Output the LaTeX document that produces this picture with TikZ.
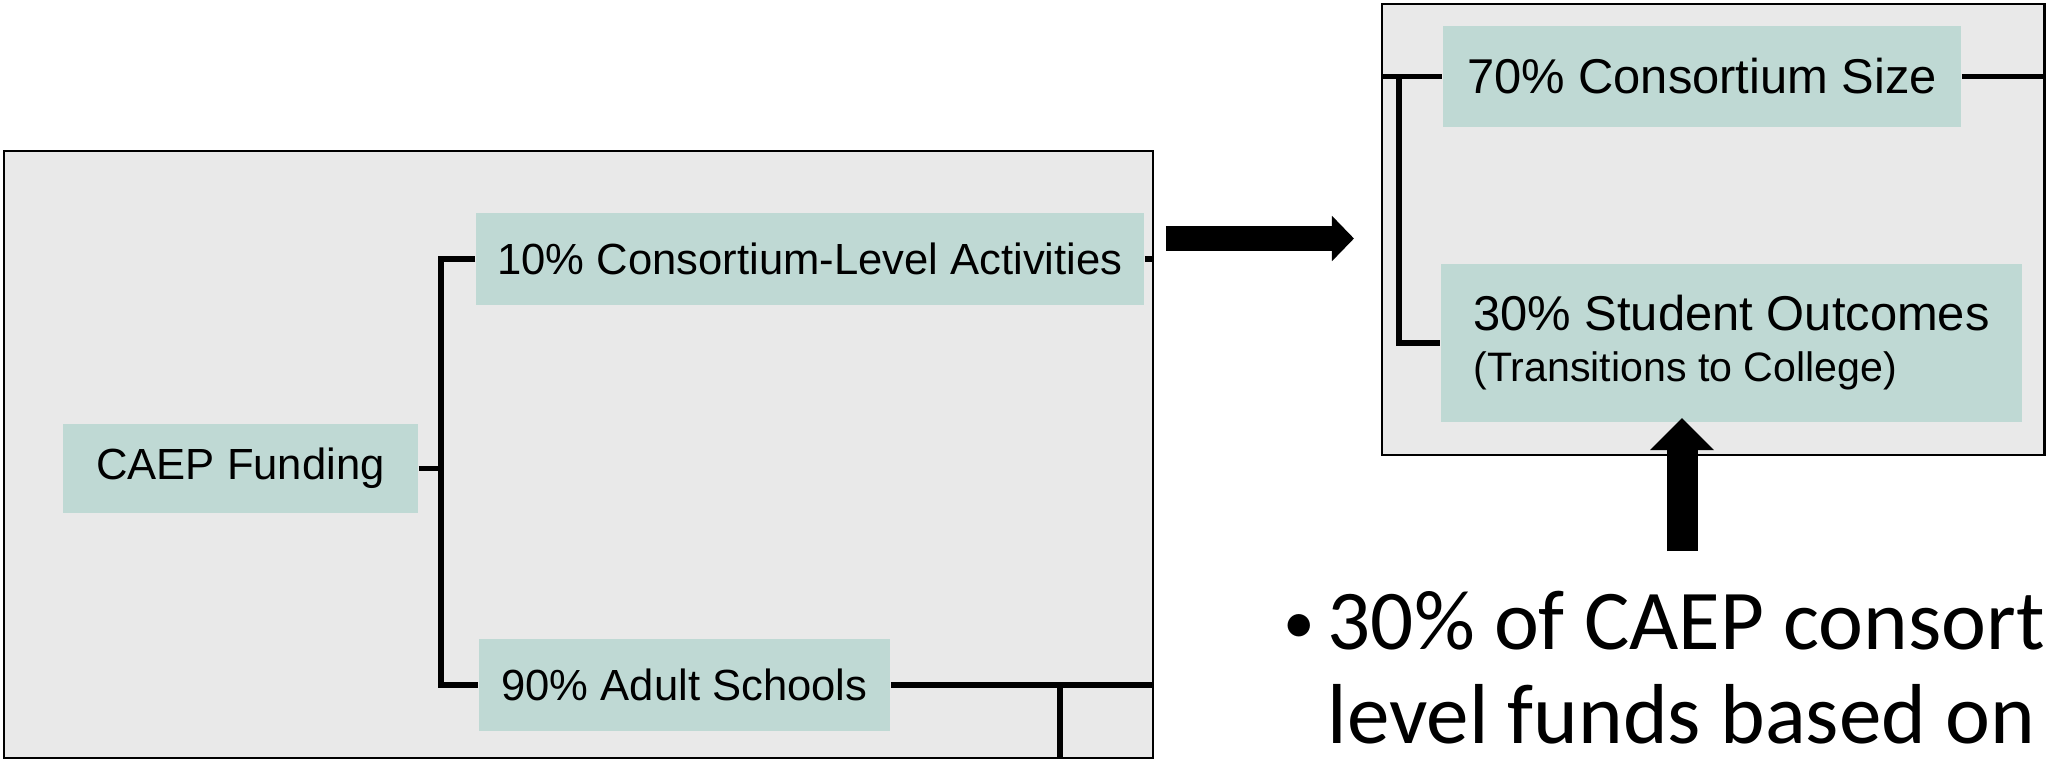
\documentclass[tikz,border=0pt]{standalone}
\usepackage{fontspec}
\setmainfont{Liberation Sans}
\newfontfamily\slidefont{Carlito}
\usetikzlibrary{arrows.meta}
\definecolor{panelgray}{RGB}{233,233,233}
\definecolor{leafteal}{RGB}{191,217,212}

\begin{document}
\begin{tikzpicture}[x=0.01cm,y=-0.01cm,
    panel/.style={draw=black,line width=0.6pt,fill=panelgray,inner sep=0pt,anchor=north west},
    leaf/.style={fill=leafteal,inner sep=0pt,font=\fontsize{12.4}{15}\selectfont},
    bigleaf/.style={font=\fontsize{13.9}{14.5}\selectfont},
    link/.style={line width=1.5pt},
    fatright/.style={line width=0.25cm,-{Triangle[length=0.22cm,width=0.44cm]}},
    fatup/.style={line width=0.31cm,-{Triangle[length=0.32cm,width=0.62cm]}}]
  \clip (0,0) rectangle (2046,760);
  %panels
  \node[panel,minimum width=11.48cm,minimum height=6.07cm] (lp) at (3,150) {};
  \node[panel,minimum width=6.62cm,minimum height=4.51cm] (rp) at (1381,3) {};
  %boxes
  \node[leaf,minimum width=3.55cm,minimum height=0.89cm] (caep) at (240.5,468.5) {CAEP Funding};
  \node[leaf,minimum width=6.68cm,minimum height=0.92cm] (act) at (810,259) {10\% Consortium-Level Activities};
  \node[leaf,minimum width=4.11cm,minimum height=0.92cm] (adult) at (684.5,685) {90\% Adult Schools};
  \node[leaf,bigleaf,minimum width=5.18cm,minimum height=1.01cm] (size) at (1702,76.5) {70\% Consortium Size};
  \node[leaf,bigleaf,align=left,minimum width=5.81cm,minimum height=1.58cm] (outc) at (1731.5,343)
      {30\% Student Outcomes\\{\fontsize{11.7}{14}\selectfont(Transitions to College)}};
  %tree lines
  \coordinate (split) at (441,468.5);
  \draw[link] (caep.east) -- (split);
  \draw[link] (act.west) -| (split) |- (adult.west);
  \draw[link] (act.east) -- (act.east -| lp.east);
  \draw[link] (adult.east) -- (adult.east -| lp.east);
  \coordinate (drop) at (1060,685);
  \draw[link] (drop) -- (drop |- lp.south);
  \coordinate (rsplit) at (1399,76.5);
  \draw[link] (rp.west |- size.west) -- (size.west);
  \draw[link] (rsplit) |- (outc.west);
  \draw[link] (size.east) -- (size.east -| rp.east);
  %arrows
  \draw[fatright,shorten <=0.12cm,shorten >=0.27cm] (lp.east |- 0,238.5) -- (rp.west |- 0,238.5);
  \node[anchor=base west,align=left,inner sep=0pt,font=\slidefont\fontsize{24.2}{26.5}\selectfont] (note) at (1283,743)
      {\makebox[0.44cm][l]{\raisebox{0.06cm}{\fontsize{18}{20}\selectfont\textbullet}}30\% of CAEP consort\\\hspace*{0.44cm}level funds based on};
  \coordinate (tail) at (1682,551);
  \draw[fatup] (tail) -- (1682,418);
\end{tikzpicture}
\end{document}
